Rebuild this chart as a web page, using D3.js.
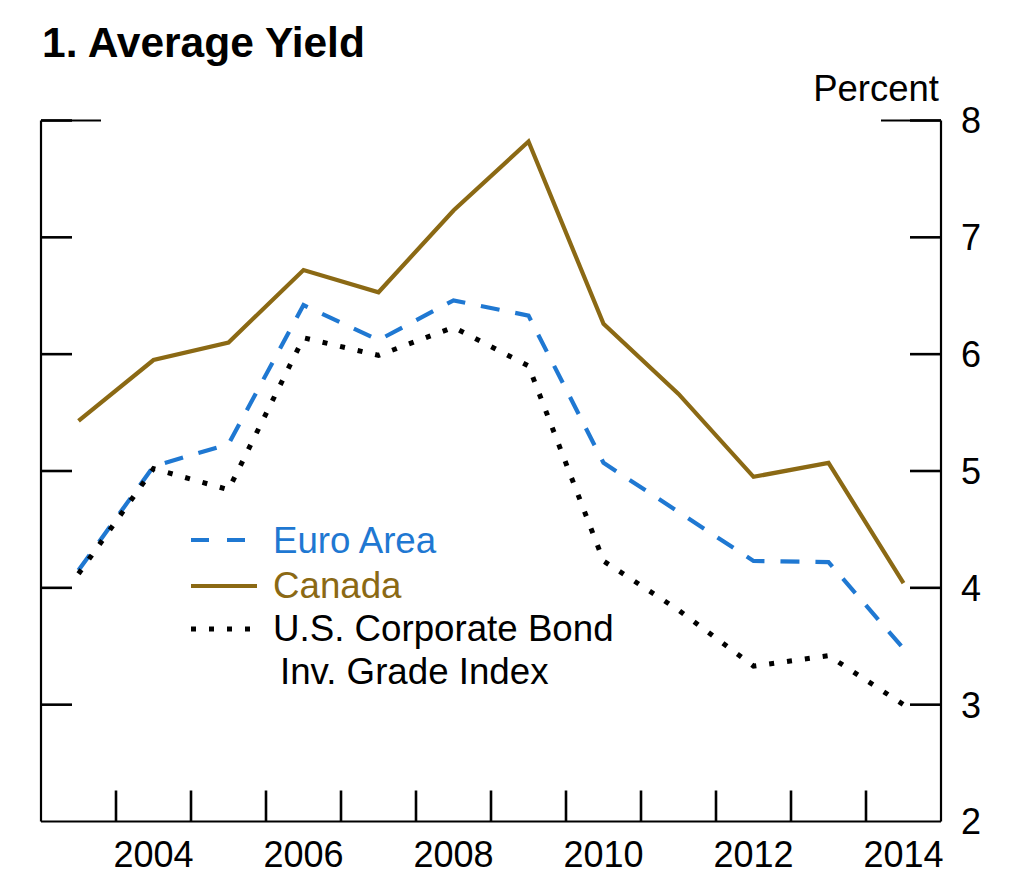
<!DOCTYPE html>
<html><head><meta charset="utf-8">
<script src="https://cdn.jsdelivr.net/npm/d3@7"></script>
<style>
body{margin:0;background:#fff;}
text{font-family:"Liberation Sans",Arial,sans-serif;}
</style></head>
<body>
<svg id="chart" width="1023" height="884"></svg>
<script>
const years = [2003.5,2004.5,2005.5,2006.5,2007.5,2008.5,2009.5,2010.5,2011.5,2012.5,2013.5,2014.5];
const euroArea = [4.15,5.04,5.23,6.42,6.12,6.46,6.33,5.07,4.65,4.23,4.22,3.48];
const canada = [5.43,5.95,6.10,6.72,6.53,7.23,7.82,6.26,5.66,4.95,5.07,4.04];
const usCorp = [4.12,5.02,4.84,6.14,5.99,6.23,5.90,4.23,3.81,3.33,3.42,3.00];
const yTicks = [2,3,4,5,6,7,8];
const xTickYears = [2004,2005,2006,2007,2008,2009,2010,2011,2012,2013,2014];
const xLabelYears = [2004,2006,2008,2010,2012,2014];

const svg = d3.select("#chart");
const x = d3.scaleLinear().domain([2003,2015]).range([41,941]);
const y = d3.scaleLinear().domain([2,8]).range([821.5,120.5]);

const brown = "#8B6914", blue = "#1f78d2";

// title
svg.append("text").attr("x",42).attr("y",57).attr("font-size",42.5).attr("font-weight","bold").text("1. Average Yield");
svg.append("text").attr("x",939).attr("y",101).attr("font-size",36.5).attr("text-anchor","end").text("Percent");

const ax = svg.append("g").attr("stroke","#000").attr("stroke-width",2.2).attr("fill","none");
// frame
ax.append("line").attr("x1",x(2003)).attr("x2",x(2003)).attr("y1",y(8)).attr("y2",y(2));
ax.append("line").attr("x1",x(2015)).attr("x2",x(2015)).attr("y1",y(8)).attr("y2",y(2));
ax.append("line").attr("x1",x(2003)).attr("x2",x(2015)).attr("y1",y(2)).attr("y2",y(2));
ax.append("line").attr("x1",x(2003)).attr("x2",x(2003)+60).attr("y1",y(8)).attr("y2",y(8));
ax.append("line").attr("x1",x(2015)-60).attr("x2",x(2015)).attr("y1",y(8)).attr("y2",y(8));
// y ticks both sides
yTicks.filter(d=>d>2).forEach(d=>{
  ax.append("line").attr("x1",x(2003)).attr("x2",x(2003)+31).attr("y1",y(d)).attr("y2",y(d)).attr("stroke-width",2.6);
  ax.append("line").attr("x1",x(2015)-31).attr("x2",x(2015)).attr("y1",y(d)).attr("y2",y(d)).attr("stroke-width",2.6);
});
// x ticks
xTickYears.forEach(d=>{
  ax.append("line").attr("x1",x(d)).attr("x2",x(d)).attr("y1",y(2)).attr("y2",y(2)-31).attr("stroke-width",2.6);
});
// y labels
svg.append("g").selectAll("text").data(yTicks).join("text")
  .attr("x",x(2015)+20).attr("y",d=>y(d)).attr("dy","0.36em").attr("font-size",36).text(d=>d);
// x labels
svg.append("g").selectAll("text").data(xLabelYears).join("text")
  .attr("x",d=>x(d+0.5)).attr("y",867).attr("text-anchor","middle").attr("font-size",36).text(d=>d);

const line = d3.line().x((d,i)=>x(years[i])).y(d=>y(d));
svg.append("path").datum(canada).attr("d",line).attr("fill","none").attr("stroke",brown).attr("stroke-width",4.2).attr("stroke-linejoin","miter");
svg.append("path").datum(euroArea).attr("d",line).attr("fill","none").attr("stroke",blue).attr("stroke-width",4.2).attr("stroke-dasharray","19,16");
svg.append("path").datum(usCorp).attr("d",line).attr("fill","none").attr("stroke","#000").attr("stroke-width",5).attr("stroke-dasharray","5,13");

// legend
const lg = svg.append("g");
lg.append("line").attr("x1",191).attr("x2",246).attr("y1",540).attr("y2",540).attr("stroke",blue).attr("stroke-width",4.2).attr("stroke-dasharray","18,18");
lg.append("text").attr("x",273).attr("y",553).attr("font-size",36.7).attr("fill",blue).text("Euro Area");
lg.append("line").attr("x1",191).attr("x2",257).attr("y1",586).attr("y2",586).attr("stroke",brown).attr("stroke-width",4.2);
lg.append("text").attr("x",273).attr("y",598).attr("font-size",36.7).attr("fill",brown).text("Canada");
lg.append("line").attr("x1",191).attr("x2",252).attr("y1",629).attr("y2",629).attr("stroke","#000").attr("stroke-width",5).attr("stroke-dasharray","5,13");
lg.append("text").attr("x",273).attr("y",641).attr("font-size",36.7).text("U.S. Corporate Bond");
lg.append("text").attr("x",280).attr("y",684).attr("font-size",36.7).text("Inv. Grade Index");
</script>
</body></html>
